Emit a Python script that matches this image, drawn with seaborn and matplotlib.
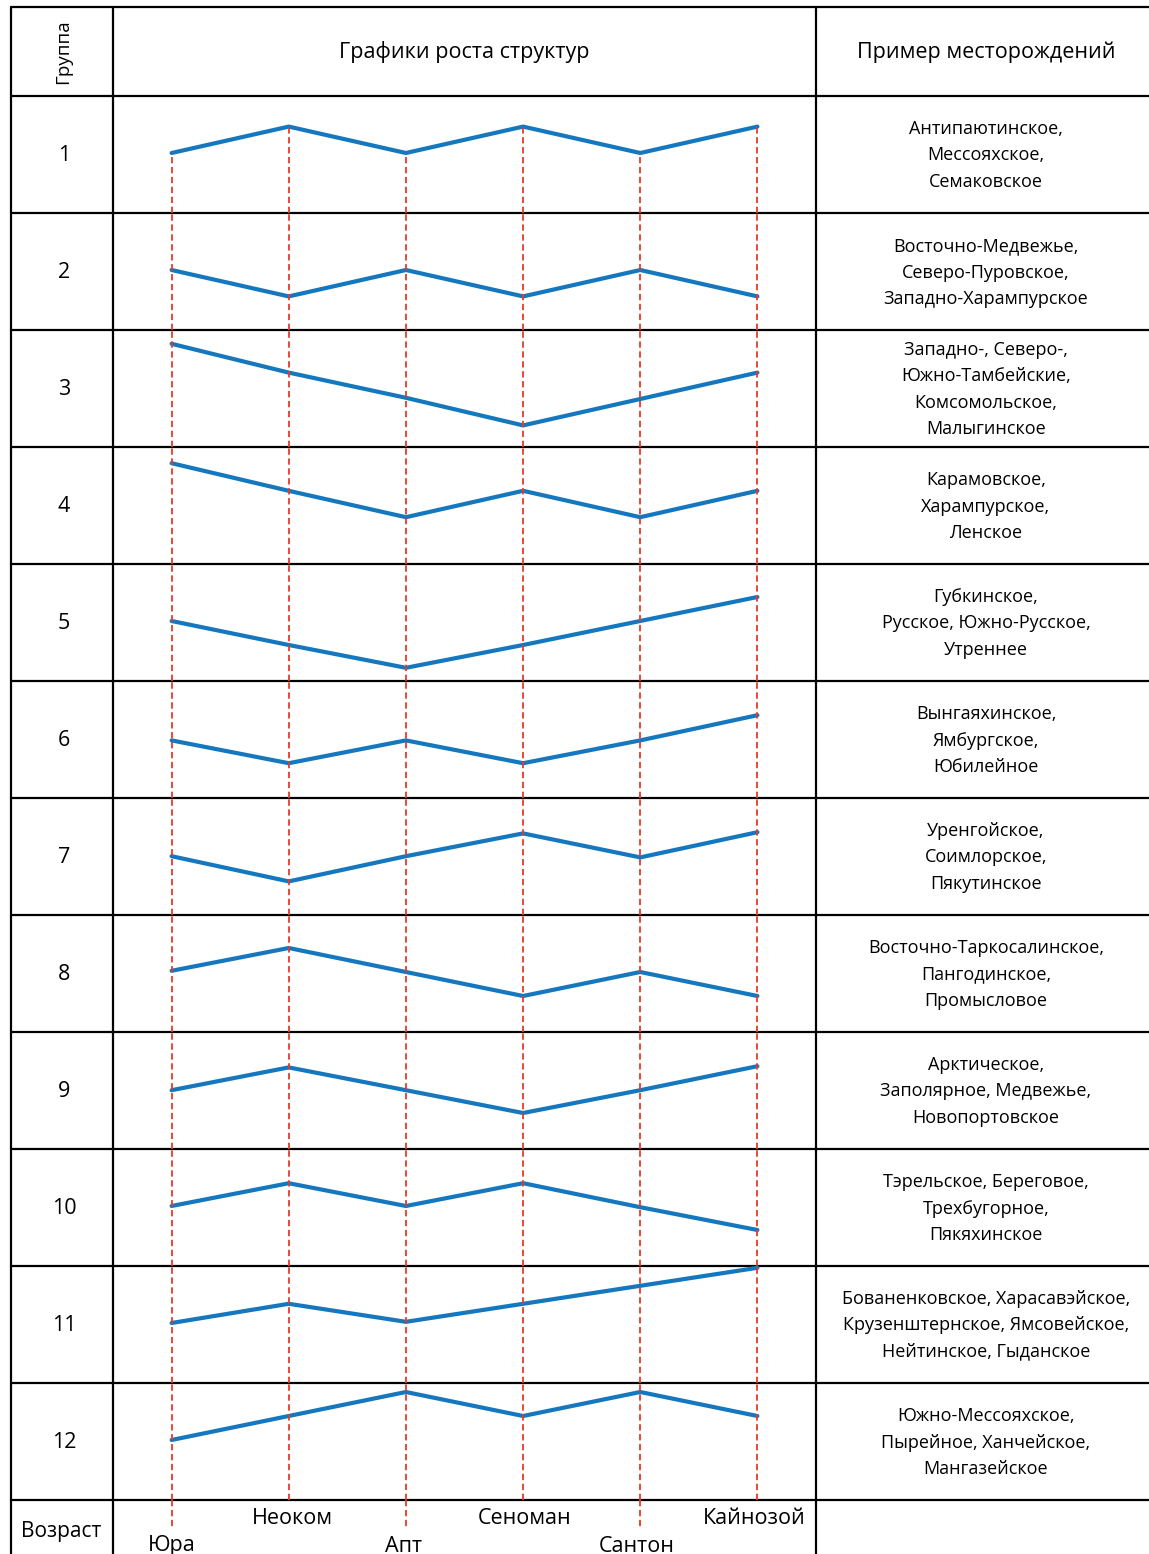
import matplotlib
matplotlib.use("Agg")
import matplotlib.pyplot as plt
import seaborn as sns
import pandas as pd
import numpy as np

sns.set_style("white")
plt.rcParams['font.family'] = ['Open Sans', 'DejaVu Sans']
plt.rcParams['text.color'] = 'black'

# stages (x) and relative structure levels per group
stages = ['Юра', 'Неоком', 'Апт', 'Сеноман', 'Сантон', 'Кайнозой']
groups = list(range(1, 13))
levels = [
    [0, 1.1, 0, 1.1, 0, 1.1],
    [0, -1.1, 0, -1.1, 0, -1.1],
    [1.8, 0.6, -0.45, -1.6, -0.5, 0.6],
    [1.7, 0.55, -0.55, 0.55, -0.55, 0.55],
    [0, -1, -1.95, -1, 0, 1],
    [-0.1, -1.05, -0.1, -1.05, -0.1, 0.95],
    [-0.05, -1.1, -0.05, 0.9, -0.1, 0.95],
    [0.05, 1, 0, -1, 0, -1],
    [-0.05, 0.9, -0.05, -1, -0.05, 0.95],
    [0, 0.95, 0, 0.95, -0.05, -1],
    [0, 0.8, 0.05, 0.8, 1.55, 2.3],
    [0, 1, 2, 1, 2, 1],
]
fields = [
    "Антипаютинское,\nМессояхское,\nСемаковское",
    "Восточно-Медвежье,\nСеверо-Пуровское,\nЗападно-Харампурское",
    "Западно-, Северо-,\nЮжно-Тамбейские,\nКомсомольское,\nМалыгинское",
    "Карамовское,\nХарампурское,\nЛенское",
    "Губкинское,\nРусское, Южно-Русское,\nУтреннее",
    "Вынгаяхинское,\nЯмбургское,\nЮбилейное",
    "Уренгойское,\nСоимлорское,\nПякутинское",
    "Восточно-Таркосалинское,\nПангодинское,\nПромысловое",
    "Арктическое,\nЗаполярное, Медвежье,\nНовопортовское",
    "Тэрельское, Береговое,\nТрехбугорное,\nПякяхинское",
    "Бованенковское, Харасавэйское,\nКрузенштернское, Ямсовейское,\nНейтинское, Гыданское",
    "Южно-Мессояхское,\nПырейное, Ханчейское,\nМангазейское",
]

rows = []
for g, lv in zip(groups, levels):
    for i, (s, v) in enumerate(zip(stages, lv)):
        rows.append({'group': g, 'stage': s, 'pos': i, 'level': v})
df = pd.DataFrame(rows)

W, H = 1149, 1554
fig = plt.figure(figsize=(W / 100, H / 100), dpi=100)

# background axes in pixel coordinates for the table grid and texts
bg = fig.add_axes([0, 0, 1, 1])
bg.set_xlim(0, W)
bg.set_ylim(H, 0)
bg.axis('off')

x_left, x_c1, x_c2, x_right = 11, 113, 816, 1149
y_top, y_head, row_h = 7, 96, 117
y_age = y_head + row_h * 12
lw_grid = 1.6
for y in [y_top, y_head] + [y_head + row_h * (k + 1) for k in range(12)]:
    bg.plot([x_left, x_right], [y, y], color='black', lw=lw_grid, zorder=1)
for x in [x_left, x_c1, x_c2]:
    bg.plot([x, x], [y_top, H], color='black', lw=lw_grid, zorder=1)

fs = 13
bg.text(63, 52, 'Группа', rotation=90, ha='center', va='center', fontsize=13.5)
bg.text(464, 52, 'Графики роста структур', ha='center', va='center', fontsize=15.5)
bg.text(986, 52, 'Пример месторождений', ha='center', va='center', fontsize=15.5)
bg.text(61, 1531, 'Возраст', ha='center', va='center', fontsize=15)

blue = '#1578bf'
red = '#e8392a'
ylo, yhi = -(row_h - 57) / 24, 57 / 24
dash = (0, (3.5, 2))

for k, g in enumerate(groups):
    top = y_head + row_h * k
    ax = fig.add_axes([x_c1 / W, 1 - (top + row_h) / H, (x_c2 - x_c1) / W, row_h / H])
    sub = df[df.group == g]
    sns.lineplot(data=sub, x='pos', y='level', ax=ax, color=blue, lw=3, clip_on=False, zorder=2)
    if k == 0:
        ax.vlines(sub['pos'], ylo, sub['level'], colors=red, lw=1.3,
                  linestyles=dash, zorder=3)
    else:
        ax.vlines(sub['pos'], ylo, yhi, colors=red, lw=1.3,
                  linestyles=dash, zorder=3)
    ax.set_xlim(-0.5, 5.5)
    ax.set_ylim(ylo, yhi)
    ax.axis('off')
    ax.patch.set_alpha(0)
    bg.text(64, top + row_h / 2 + 1, str(g), ha='center', va='center', fontsize=15.5)
    bg.text(986, top + row_h / 2 + 1, fields[k], ha='center', va='center',
            fontsize=fs, linespacing=1.58)

# age row with stage labels
age = fig.add_axes([x_c1 / W, 0, (x_c2 - x_c1) / W, (H - y_age) / H])
age.set_xlim(-0.5, 5.5)
age.set_ylim(H - y_age, 0)
age.axis('off')
age.patch.set_alpha(0)
shift = [0, 0.03, -0.02, 0.01, -0.03, -0.03]
for i, s in enumerate(stages):
    if i % 2 == 0:
        age.vlines(i, 0, 28, colors=red, lw=1.3, linestyles=dash)
        age.text(i + shift[i], 46, s, ha='center', va='center', fontsize=15.5)
    else:
        age.text(i + shift[i], 19, s, ha='center', va='center', fontsize=15.5)

fig.savefig('out.png', dpi=100)
